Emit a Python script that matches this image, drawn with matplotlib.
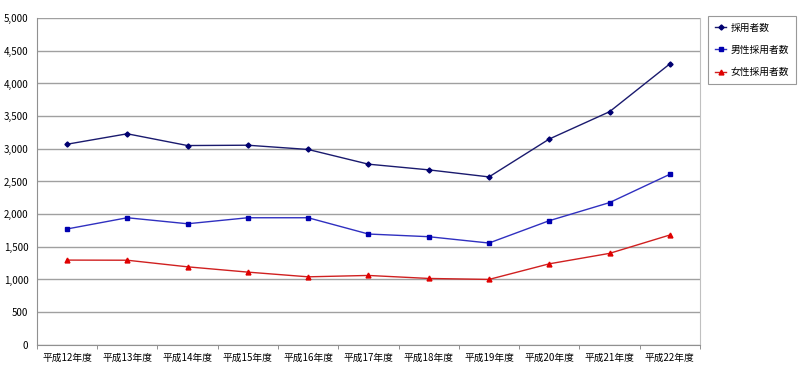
import numpy as np
import matplotlib
matplotlib.use('Agg')
import matplotlib.pyplot as plt
from matplotlib.ticker import FuncFormatter, FixedLocator

plt.rcParams['font.family'] = ['Noto Sans CJK JP', 'DejaVu Sans']

# data
years = ['平成12年度', '平成13年度', '平成14年度', '平成15年度', '平成16年度', '平成17年度',
         '平成18年度', '平成19年度', '平成20年度', '平成21年度', '平成22年度']
total = [3070, 3230, 3050, 3055, 2990, 2765, 2678, 2570, 3150, 3568, 4300]
male = [1773, 1945, 1853, 1945, 1945, 1696, 1655, 1558, 1900, 2177, 2610]
female = [1297, 1295, 1194, 1113, 1041, 1062, 1016, 1001, 1240, 1400, 1681]

fig = plt.figure(figsize=(8, 3.7), dpi=100)
ax = fig.add_axes([0.046, 0.068, 0.829, 0.883])

x = np.arange(len(years))
l1, = ax.plot(x, total, color='#1a1a6e', lw=1.0, marker='D', ms=2.6, mfc='#000070', mec='#000070', label='採用者数')
l2, = ax.plot(x, male, color='#3030c0', lw=1.0, marker='s', ms=2.6, mfc='#0000b0', mec='#0000b0', label='男性採用者数')
l3, = ax.plot(x, female, color='#d02020', lw=1.0, marker='^', ms=3.5, mfc='#e00000', mec='#e00000', label='女性採用者数')

ax.set_xlim(-0.5, len(years) - 0.5)
ax.set_ylim(0, 5000)
ax.set_yticks(np.arange(0, 5001, 500))
ax.yaxis.set_major_formatter(FuncFormatter(lambda v, p: '{:,}'.format(int(v))))
ax.set_xticks(x)
ax.set_xticklabels(years, fontsize=7)
ax.xaxis.set_minor_locator(FixedLocator(np.arange(-0.5, len(years), 1)))
ax.tick_params(axis='x', which='major', length=0, pad=6)
ax.tick_params(axis='x', which='minor', length=3, color='#808080')
ax.tick_params(axis='y', length=0, labelsize=7, pad=6)
ax.grid(axis='y', color='#a0a0a0', lw=1.0)
ax.set_axisbelow(True)
ax.spines['top'].set_visible(False)
ax.spines['right'].set_color('#c0c0c0')
ax.spines['left'].set_color('#909090')
ax.spines['bottom'].set_color('#909090')

leg = fig.legend(handles=[l1, l2, l3], loc='upper left', bbox_to_anchor=(0.885, 0.957),
                 borderaxespad=0, fontsize=7, frameon=True, fancybox=False, edgecolor='#808080',
                 handlelength=1.2, labelspacing=1.25, borderpad=0.7, handletextpad=0.4)
leg.get_frame().set_linewidth(0.8)

fig.savefig('out.png', dpi=100)
